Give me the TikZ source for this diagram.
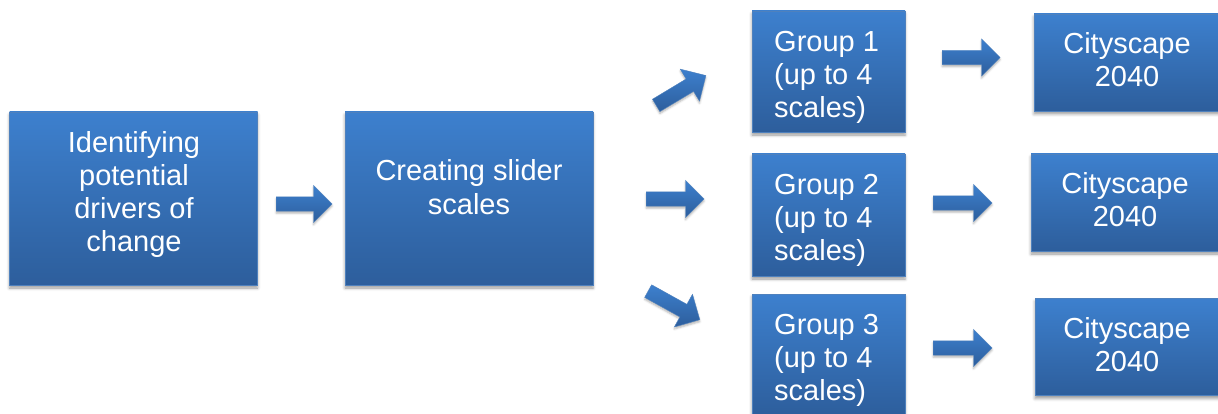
\documentclass[tikz,border=0pt]{standalone}
\usepackage{fontspec}
\setmainfont{Liberation Sans}
\usetikzlibrary{shapes.arrows,shadows.blur}
\definecolor{btop}{RGB}{61,128,206}
\definecolor{bbot}{RGB}{45,94,156}
\definecolor{bline}{RGB}{79,129,189}
\begin{document}
\begin{tikzpicture}[x=1pt,y=-1pt,
  boxstyle/.style={rectangle, draw=bline, line width=0.7pt,
    top color=btop, bottom color=bbot, inner sep=0pt,
    blur shadow={shadow xshift=0pt, shadow yshift=-3pt,
      shadow blur radius=3pt, shadow opacity=40}},
  boxtext/.style={text=white, inner sep=0pt,
    font=\fontsize{29}{33}\selectfont},
  blockarrow/.style={single arrow, draw=bline, line width=0.4pt,
    top color=btop, bottom color=bbot, inner sep=7pt,
    single arrow head extend=11.5pt, single arrow tip angle=90,
    anchor=tail,
    blur shadow={shadow xshift=0pt, shadow yshift=-2pt,
      shadow blur radius=2pt, shadow opacity=30}}]
\useasboundingbox (0,0) rectangle (1218,414);

% main boxes
\node[boxstyle, minimum width=248pt, minimum height=173pt] (b1) at (133.5,198.5) {};
\node[boxstyle, minimum width=248pt, minimum height=173pt] (b2) at (469,198.5) {};
\node[boxstyle, minimum width=153pt, minimum height=121pt] (g1) at (828.5,71.5) {};
\node[boxstyle, minimum width=153pt, minimum height=122pt] (g2) at (828.5,215) {};
\node[boxstyle, minimum width=153pt, minimum height=122pt] (g3) at (828.5,355) {};
\node[boxstyle, minimum width=186pt, minimum height=97pt] (c1) at (1127,62.5) {};
\node[boxstyle, minimum width=188pt, minimum height=97pt] (c2) at (1125,202.5) {};
\node[boxstyle, minimum width=186pt, minimum height=97pt] (c3) at (1128,347) {};

% texts
\node[boxtext, align=center, anchor=north] (t1) at (134,131) {Identifying\\potential\\drivers of\\change};
\node[boxtext, align=center, anchor=north, font=\fontsize{29}{34}\selectfont] (t2) at (469,159) {Creating slider\\scales};
\node[boxtext, align=left, anchor=north west] (tg1) at (774,31) {Group 1\\(up to 4\\scales)};
\node[boxtext, align=left, anchor=north west] (tg2) at (774,174) {Group 2\\(up to 4\\scales)};
\node[boxtext, align=left, anchor=north west] (tg3) at (774,314) {Group 3\\(up to 4\\scales)};
\node[boxtext, align=center, anchor=north] (tc1) at (1127,32.1) {Cityscape\\2040};
\node[boxtext, align=center, anchor=north] (tc2) at (1125,172.1) {Cityscape\\2040};
\node[boxtext, align=center, anchor=north] (tc3) at (1127,317) {Cityscape\\2040};

% block arrows
\node[blockarrow, minimum height=56pt] (a1) at (276,204) {};
\node[blockarrow, minimum height=58pt, rotate=31] (a2) at (656,105.5) {};
\node[blockarrow, minimum height=58pt] (a3) at (646,199) {};
\node[blockarrow, minimum height=59pt, rotate=-29] (a4) at (648,291) {};
\node[blockarrow, minimum height=58pt] (a5) at (942,57.5) {};
\node[blockarrow, minimum height=59pt] (a6) at (933,203) {};
\node[blockarrow, minimum height=59pt] (a7) at (933,348) {};
\end{tikzpicture}
\end{document}
